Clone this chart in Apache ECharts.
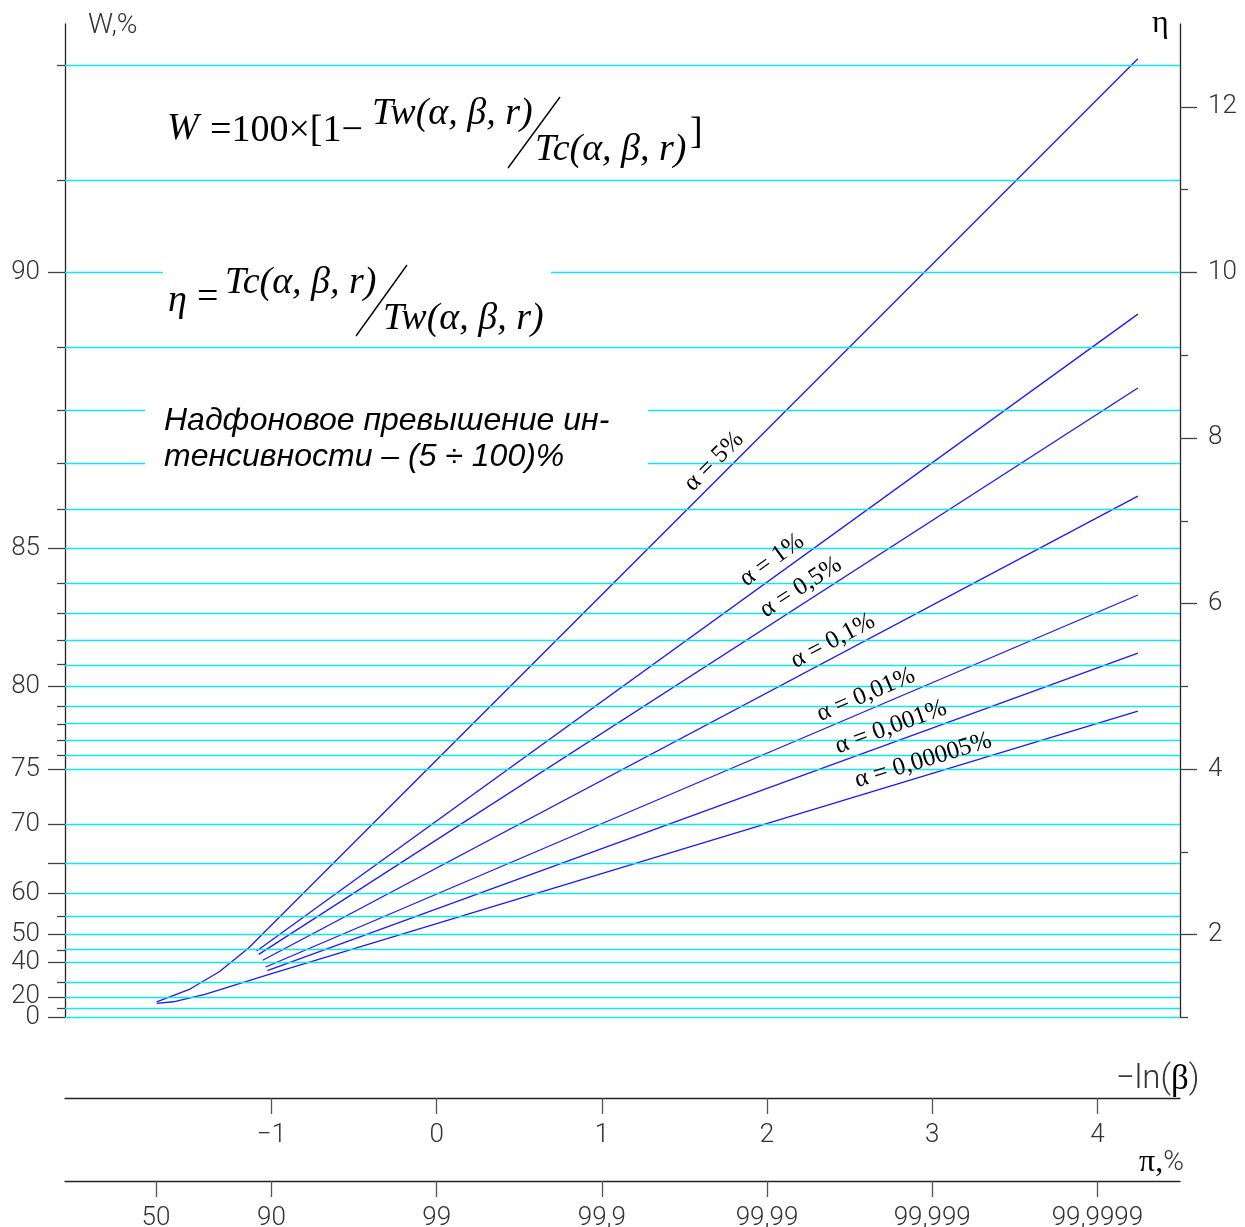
<!DOCTYPE html>
<html>
<head>
<meta charset="utf-8">
<title>W, η — -ln(β)</title>
<script src="https://cdn.jsdelivr.net/npm/echarts@6/dist/echarts.min.js"></script>
<style>
html, body { margin: 0; padding: 0; background: #fff; }
#chart { width: 1245px; height: 1227px; }
</style>
</head>
<body>
<div id="chart"></div>
<script>
// W,% ticks (left axis), drawn on the eta scale: eta = 100 / (100 - W)
const wGridTicks = [0, 10, 20, 30, 40, 45, 50, 55, 60, 65, 70, 75, 76, 77, 78, 79, 80, 81, 82, 83, 84, 85, 86, 87, 88, 89, 90, 91, 92];
const wLongTicks = [0, 20, 40, 50, 60, 65, 70, 75, 80, 85, 90];
const wShortTicks = [10, 30, 45, 55, 76, 77, 78, 79, 81, 82, 83, 84, 86, 87, 88, 89, 91, 92];
const wLabelTicks = [20, 40, 50, 60, 70, 75, 80, 85, 90];
const wBottomLabel = [0];

// eta ticks (right axis)
const etaLongTicks = [2, 4, 6, 8, 10, 12];
const etaShortTicks = [1, 3, 5, 7, 9, 11];

// bottom axes
const lnBetaTicks = [-1, 0, 1, 2, 3, 4];
const piTickValues = [50, 90, 99, 99.9, 99.99, 99.999, 99.9999];
const piTickLabels = ['50', '90', '99', '99,9', '99,99', '99,999', '99,9999'];

// curves: x = -ln(β), y = η
const alphaNames = ['α = 5%', 'α = 1%', 'α = 0,5%', 'α = 0,1%', 'α = 0,01%', 'α = 0,001%', 'α = 0,00005%'];
const curveX = [
    [-1.695, -1.493, -1.316, -1.14, 4.245],
    [-1.09, 4.245],
    [-1.077, 4.245],
    [-1.053, 4.245],
    [-1.035, 4.245],
    [-1.025, 4.245],
    [-1.695, -1.594, -1.403, -1.029, 4.245]
];
const curveEta = [
    [1.19, 1.344, 1.553, 1.836, 12.58],
    [1.803, 9.496],
    [1.763, 8.603],
    [1.691, 7.298],
    [1.61, 6.103],
    [1.565, 5.402],
    [1.171, 1.19, 1.28, 1.513, 4.70]
];
// where along each curve its label sits (x = -ln(β))
const labelAt = [1.743, 2.083, 2.254, 2.441, 2.634, 2.781, 2.972];

const etaOf = w => 100 / (100 - w);
const wOf = eta => String(Math.round(100 - 100 / eta));
const xOfPi = p => -Math.log10(100 - p);
const piX = piTickValues.map(xOfPi);

const axisColor = '#222';
const axisText = { fontFamily: 'Roboto', fontWeight: 300, fontSize: 26, color: '#333', hideOverlap: false };
const serif = '"Liberation Serif", "Times New Roman", serif';

const chart = echarts.init(document.getElementById('chart'));

function bottomAxis(offset, ticks, fmt) {
    return {
        type: 'value', min: -2.25, max: 4.5, position: 'bottom', offset: offset,
        axisLine: { show: true, onZero: false, lineStyle: { color: axisColor, width: 1.3 } },
        axisTick: { show: true, customValues: ticks, length: 16, lineStyle: { color: '#555', width: 1.3 } },
        axisLabel: Object.assign({ customValues: ticks, formatter: fmt, margin: 24 }, axisText),
        splitLine: { show: false }
    };
}

function etaAxis(pos, tickVals, tickLen, labelVals, fmt, margin, line) {
    const a = {
        type: 'value', min: 1, max: 13, position: pos,
        axisLine: { show: line, onZero: false, lineStyle: { color: axisColor, width: 1.3 } },
        axisTick: { show: true, customValues: tickVals, length: tickLen, lineStyle: { color: '#444', width: 1.3 } },
        axisLabel: { show: false },
        splitLine: { show: false }
    };
    if (labelVals) {
        a.axisLabel = Object.assign({ show: true, customValues: labelVals, formatter: fmt, margin: margin,
            showMinLabel: true, showMaxLabel: true }, axisText);
    }
    return a;
}

const option = {
    animation: false,
    grid: { left: 65, right: 65, top: 24, bottom: 209.5, containLabel: false, outerBoundsMode: 'none' },
    xAxis: [
        { type: 'value', min: -2.25, max: 4.5, position: 'bottom', show: false },
        bottomAxis(80.5, lnBetaTicks, v => (v < 0 ? '−' + Math.abs(v) : String(v))),
        bottomAxis(163.5, piX, v => {
            let best = 0;
            piX.forEach((x, i) => { if (Math.abs(x - v) < Math.abs(piX[best] - v)) best = i; });
            return piTickLabels[best];
        })
    ],
    yAxis: [
        etaAxis('left', wLongTicks.map(etaOf), 17, wLabelTicks.map(etaOf), wOf, 25, true),
        // short ticks; also carries the lone "0" label so it does not knock out "20"
        etaAxis('left', wShortTicks.map(etaOf), 8, wBottomLabel.map(etaOf), wOf, 25, false),
        etaAxis('right', etaLongTicks, 17, etaLongTicks, v => String(v), 28, true),
        etaAxis('right', etaShortTicks, 8, null, null, 0, false)
    ],
    series: [
        {
            type: 'line', xAxisIndex: 0, yAxisIndex: 2, data: [], z: 1, silent: true,
            markLine: {
                silent: true, symbol: ['none', 'none'], animation: false,
                label: { show: false },
                lineStyle: { color: '#10e8f0', width: 1.4, type: 'solid' },
                emphasis: { disabled: true },
                data: wGridTicks.map(w => ({ yAxis: etaOf(w) }))
            }
        }
    ].concat(alphaNames.map((name, i) => ({
        type: 'line', name: name, xAxisIndex: 0, yAxisIndex: 2, z: 3, silent: true,
        symbol: 'none',
        lineStyle: { color: '#1a1aff', width: 1.3 },
        data: curveX[i].map((x, j) => [x, curveEta[i][j]])
    })))
};

chart.setOption(option);

// labels along the curves, placed through the chart's own scale
const toPx = p => chart.convertToPixel({ xAxisIndex: 0, yAxisIndex: 2 }, p);
const curveLabels = alphaNames.map((name, i) => {
    const xs = curveX[i], ys = curveEta[i], n = xs.length;
    const a = toPx([xs[n - 2], ys[n - 2]]), b = toPx([xs[n - 1], ys[n - 1]]);
    const t = (labelAt[i] - xs[n - 2]) / (xs[n - 1] - xs[n - 2]);
    const p = toPx([labelAt[i], ys[n - 2] + t * (ys[n - 1] - ys[n - 2])]);
    const ang = Math.atan2(a[1] - b[1], b[0] - a[0]);
    const d = 15;
    return {
        type: 'text', z: 20,
        x: p[0] - d * Math.sin(ang), y: p[1] - d * Math.cos(ang), rotation: ang,
        style: { text: name, font: '25px ' + serif, fill: '#000', align: 'center', verticalAlign: 'middle' }
    };
});

const f38 = '38px ' + serif, i38 = 'italic 38px ' + serif;
const sansI = 'italic 32px "Liberation Sans", Arial, sans-serif';
const txt = (s, x, y, font, extra) => ({
    type: 'text', z: 20, x: x, y: y,
    style: Object.assign({ text: s, font: font, fill: '#000', verticalAlign: 'middle' }, extra || {})
});
const slash = (x1, y1, x2, y2) => ({
    type: 'line', z: 20, shape: { x1: x1, y1: y1, x2: x2, y2: y2 }, style: { stroke: '#000', lineWidth: 1.4 }
});

chart.setOption({
    graphic: {
        elements: [
            // white boxes behind the formula and note
            { type: 'rect', z: 10, shape: { x: 163, y: 256, width: 388, height: 88 }, style: { fill: '#fff' } },
            { type: 'rect', z: 10, shape: { x: 145, y: 396, width: 503, height: 84 }, style: { fill: '#fff' } },
            // W formula
            txt('W', 167, 129, i38),
            txt('=100×[1−', 210, 131, f38),
            txt('Tw(α, β, r)', 372, 114, i38),
            slash(508, 168, 560, 97),
            txt('Tc(α, β, r)', 535, 150, i38),
            txt(']', 690, 133, f38),
            // eta formula
            txt('η', 168, 301, i38),
            txt('=', 197, 298, f38),
            txt('Tc(α, β, r)', 225, 283, i38),
            slash(356, 336, 407, 265),
            txt('Tw(α, β, r)', 383, 319, i38),
            // note
            txt('Надфоновое превышение ин-', 164, 421, sansI),
            txt('тенсивности – (5 ÷ 100)%', 164, 457, sansI),
            // axis titles
            txt('W,%', 88, 26, '300 28px Roboto', { fill: '#333' }),
            txt('η', 1152, 24, '32px ' + serif),
            {
                type: 'text', z: 20, x: 1116, y: 1080,
                style: {
                    text: '{a|−ln(}{b|β}{a|)}', verticalAlign: 'middle',
                    rich: { a: { fontFamily: 'Roboto', fontWeight: 300, fontSize: 33, fill: '#333' }, b: { fontFamily: serif, fontSize: 35, fill: '#000' } }
                }
            },
            {
                type: 'text', z: 20, x: 1139, y: 1163,
                style: {
                    text: '{b|π,}{a|%}', verticalAlign: 'middle',
                    rich: { a: { fontFamily: 'Roboto', fontWeight: 300, fontSize: 28, fill: '#333' }, b: { fontFamily: serif, fontSize: 32, fill: '#000' } }
                }
            }
        ].concat(curveLabels)
    }
});
</script>
</body>
</html>
